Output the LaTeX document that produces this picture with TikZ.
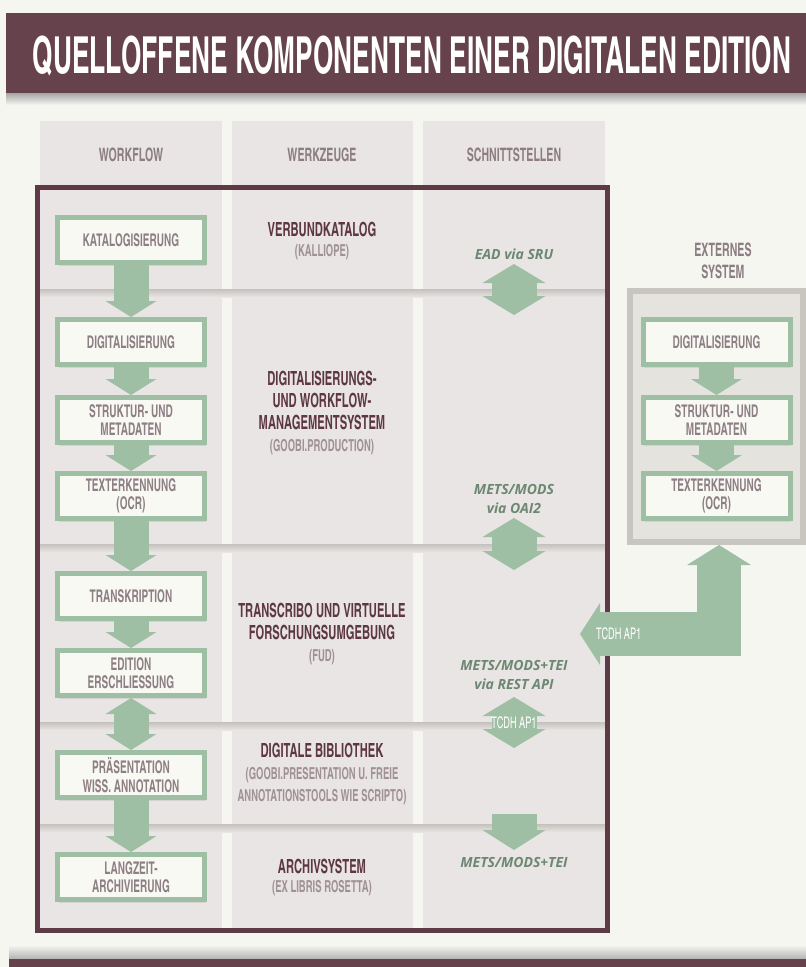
\documentclass[tikz,border=0pt]{standalone}
\usepackage{fontspec}
\setmainfont{Open Sans}
\newfontfamily\bebas{texgyreheroscn}[Extension=.otf,UprightFont=*-regular,BoldFont=*-bold,FakeStretch=0.7]
\newfontfamily\bebastitle{texgyreheroscn}[Extension=.otf,UprightFont=*-bold,FakeStretch=0.63]
\usetikzlibrary{arrows.meta,shadows}

\definecolor{titlebar}{RGB}{102,66,76}
\definecolor{paper}{RGB}{246,246,241}
\definecolor{colbg}{RGB}{233,229,228}
\definecolor{headtext}{RGB}{140,125,131}
\definecolor{boxtext}{RGB}{142,127,133}
\definecolor{tooltext}{RGB}{93,55,66}
\definecolor{subtext}{RGB}{160,145,150}
\definecolor{flowgreen}{RGB}{158,191,164}
\definecolor{boxfill}{RGB}{249,249,244}
\definecolor{frame}{RGB}{94,58,70}
\definecolor{ifacetext}{RGB}{108,136,114}
\definecolor{extfill}{RGB}{229,227,221}
\definecolor{extborder}{RGB}{201,198,192}
\definecolor{divider}{RGB}{196,193,190}

\begin{document}
\begin{tikzpicture}[x=1pt,y=-1pt]
	\tikzstyle{wf}      = [rectangle,draw=flowgreen,line width=5pt,fill=boxfill,minimum width=147pt,minimum height=45pt,inner sep=0pt,align=center,text=boxtext,font=\bebas\bfseries\fontsize{17.5}{18.5}\selectfont,drop shadow={opacity=0.18,shadow xshift=1pt,shadow yshift=-3pt}]
	\tikzstyle{head}    = [align=center,text=headtext,font=\bebas\bfseries\fontsize{18.5}{22}\selectfont]
	\tikzstyle{tool}    = [align=center,text=tooltext,font=\bebas\bfseries\fontsize{19.5}{22}\selectfont]
	\tikzstyle{toolsub} = [align=center,text=subtext,font=\bebas\bfseries\fontsize{16.5}{22}\selectfont]
	\tikzstyle{iface}   = [align=center,text=ifacetext,font=\bfseries\itshape\fontsize{14}{19}\selectfont]
	\tikzstyle{flow}    = [draw=flowgreen,line width=35pt,-{Triangle[length=16pt,width=51pt,line width=0pt]}]
	\tikzstyle{flowboth}= [draw=flowgreen,line width=35pt,{Triangle[length=16pt,width=51pt,line width=0pt]}-{Triangle[length=16pt,width=51pt,line width=0pt]}]
	\tikzstyle{iflow}   = [draw=flowgreen,line width=45pt,-{Triangle[length=20pt,width=63pt,line width=0pt]}]
	\tikzstyle{iboth}   = [draw=flowgreen,line width=45pt,{Triangle[length=19pt,width=63pt,line width=0pt]}-{Triangle[length=19pt,width=63pt,line width=0pt]}]
	\tikzstyle{apitag}  = [text=white,inner sep=0pt,font=\bebas\fontsize{16}{16}\selectfont]

	\useasboundingbox[fill=paper] (0,0) rectangle (806,967);

	\shade[top color=black!35,bottom color=paper] (6,93) rectangle (806,105);
	\fill[titlebar] (6,13) rectangle (806,93);
	\node[text=white,font=\bebastitle\fontsize{51}{51}\selectfont] (title) at (412,56) {QUELLOFFENE KOMPONENTEN EINER DIGITALEN EDITION};

	\fill[colbg] (40,121) rectangle (222,928);
	\fill[colbg] (232,121) rectangle (413,928);
	\fill[colbg] (423,121) rectangle (605,928);

	\node[head] (hwork) at (131,155) {WORKFLOW};
	\node[head] (htool) at (322,155) {WERKZEUGE};
	\node[head] (hface) at (514,155) {SCHNITTSTELLEN};

	\shade[top color=divider,bottom color=colbg] (40,289) rectangle (605,297);
	\shade[top color=divider,bottom color=colbg] (40,544) rectangle (605,552);
	\shade[top color=divider,bottom color=colbg] (40,722) rectangle (605,730);
	\shade[top color=divider,bottom color=colbg] (40,824) rectangle (605,832);

	\draw[frame,line width=5pt] (37.5,187.5) rectangle (607.5,930.5);

	\node[wf] (kat)   at (131,240) {KATALOGISIERUNG};
	\node[wf] (dig)   at (131,342) {DIGITALISIERUNG};
	\node[wf] (struk) at (131,420) {STRUKTUR- UND\\METADATEN};
	\node[wf] (ocr)   at (131,496) {TEXTERKENNUNG\\(OCR)};
	\node[wf] (trans) at (131,596) {TRANSKRIPTION};
	\node[wf] (edit)  at (131,673) {EDITION\\ERSCHLIESSUNG};
	\node[wf] (praes) at (131,775) {PRÄSENTATION\\WISS. ANNOTATION};
	\node[wf] (lang)  at (131,877) {LANGZEIT-\\ARCHIVIERUNG};

	\path (kat) edge[flow] (dig);
	\path (dig) edge[flow] (struk);
	\path (struk) edge[flow] (ocr);
	\path (ocr) edge[flow] (trans);
	\path (trans) edge[flow] (edit);
	\path (edit) edge[flowboth] (praes);
	\path (praes) edge[flow] (lang);

	\node[tool] (verbund) at (322,229) {VERBUNDKATALOG};
	\node[toolsub] (kalliope) at (322,252) {(KALLIOPE)};
	\node[tool] (goobi) at (322,400) {DIGITALISIERUNGS-\\UND WORKFLOW-\\MANAGEMENTSYSTEM};
	\node[toolsub] (goobiprod) at (322,447) {(GOOBI.PRODUCTION)};
	\node[tool] (transcribo) at (322,621) {TRANSCRIBO UND VIRTUELLE\\FORSCHUNGSUMGEBUNG};
	\node[toolsub] (fud) at (322,657) {(FUD)};
	\node[tool] (biblio) at (322,750) {DIGITALE BIBLIOTHEK};
	\node[toolsub] (goobipres) at (322,786) {(GOOBI.PRESENTATION U. FREIE\\ANNOTATIONSTOOLS WIE SCRIPTO)};
	\node[tool] (archiv) at (322,866) {ARCHIVSYSTEM};
	\node[toolsub] (rosetta) at (322,888) {(EX LIBRIS ROSETTA)};

	\node[iface] (ead) at (514,254) {EAD via SRU};
	\node[iface] (oai) at (514,499) {METS/MODS\\via OAI2};
	\node[iface] (rest) at (514,675) {METS/MODS+TEI\\via REST API};
	\node[iface] (tei) at (514,862) {METS/MODS+TEI};

	\coordinate (s1a) at (514,264);
	\coordinate (s1b) at (514,315);
	\coordinate (s2a) at (514,518);
	\coordinate (s2b) at (514,570);
	\coordinate (s3a) at (514,697);
	\coordinate (s3b) at (514,748);
	\coordinate (s4a) at (514,814);
	\coordinate (s4b) at (514,850);
	\path (s1a) edge[iboth] (s1b);
	\path (s2a) edge[iboth] (s2b);
	\path (s3a) edge[iboth] (s3b);
	\path (s4a) edge[iflow] (s4b);
	\node[apitag] (api) at (514,723) {TCDH AP1};

	\node[head] (extern) at (723,261) {EXTERNES\\SYSTEM};
	\node[rectangle,draw=extborder,line width=6pt,fill=extfill,minimum width=173pt,minimum height=251pt] (ext) at (716.5,416.5) {};
	\node[wf] (edig)   at (716.5,342) {DIGITALISIERUNG};
	\node[wf] (estruk) at (716.5,420) {STRUKTUR- UND\\METADATEN};
	\node[wf] (eocr)   at (716.5,496) {TEXTERKENNUNG\\(OCR)};
	\path (edig) edge[flow] (estruk);
	\path (estruk) edge[flow] (eocr);

	\coordinate (bend) at (719,634);
	\coordinate (back) at (580,634);
	\draw[flowgreen,line width=44pt,line join=miter,{Triangle[length=20pt,width=64pt,line width=0pt]}-{Triangle[length=20pt,width=62pt,line width=0pt]}] (ext.south -| bend) -- (bend) -- (back);
	\node[apitag,anchor=west] (extapi) at (596,634) {TCDH AP1};

	\shade[top color=paper,bottom color=black!30] (9,945) rectangle (806,959);
	\fill[titlebar] (9,959) rectangle (806,967);
\end{tikzpicture}
\end{document}
